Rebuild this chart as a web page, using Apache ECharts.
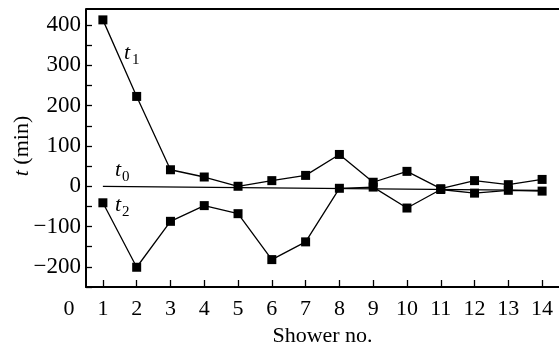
<!DOCTYPE html>
<html>
<head>
<meta charset="utf-8">
<script src="https://cdn.jsdelivr.net/npm/echarts@6/dist/echarts.min.js"></script>
<style>
  html, body { margin: 0; padding: 0; background: #fff; }
  #chart { width: 559px; height: 352px; }
</style>
</head>
<body>
<div id="chart"></div>
<script>
// Shower numbers along the x axis
const showers = ['1','2','3','4','5','6','7','8','9','10','11','12','13','14'];
// Times t1 and t2 per shower, in minutes
const t1Values = [413, 223, 41, 23, 0, 14, 27, 79, 10, 37, -6, 14, 4, 17];
const t2Values = [-41, -201, -87, -48, -68, -182, -138, -5, -2, -54, -8, -17, -10, -12];
// Reference line t0 (start and end points)
const t0Points = [['1', 0], ['14', -10]];

const FONT = 'Liberation Serif';

const chart = echarts.init(document.getElementById('chart'), null, { renderer: 'canvas' });

const lineStyle = { color: '#000', width: 1.3 };

chart.setOption({
  animation: false,
  backgroundColor: '#fff',
  textStyle: { fontFamily: FONT },
  grid: { left: 86, right: -3, top: 9, bottom: 65, show: false },
  xAxis: {
    type: 'category',
    data: showers,
    boundaryGap: true,
    axisLine: { show: true, onZero: false, lineStyle: { color: '#000', width: 2 } },
    axisTick: { show: true, inside: true, alignWithLabel: true, interval: 0, length: 7, lineStyle: { color: '#000', width: 1.3 } },
    axisLabel: { color: '#000', fontFamily: FONT, fontSize: 22, margin: 11, interval: 0 },
    splitLine: { show: false },
    name: 'Shower no.',
    nameLocation: 'middle',
    nameGap: 38,
    nameTextStyle: { color: '#000', fontFamily: FONT, fontSize: 22 }
  },
  yAxis: {
    type: 'value',
    min: -250,
    max: 440,
    interval: 50,
    axisLine: { show: true, lineStyle: { color: '#000', width: 2 } },
    axisTick: { show: true, inside: true, length: 6, lineStyle: { color: '#000', width: 1.3 } },
    axisLabel: {
      color: '#000', fontFamily: FONT, fontSize: 23, margin: 5,
      showMaxLabel: false,
      formatter: v => (v % 100 === 0 ? (v < 0 ? '\u2212' + (-v) : String(v)) : '')
    },
    splitLine: { show: false }
  },
  graphic: [
    // top frame line
    { type: 'line', shape: { x1: 86, y1: 9, x2: 562, y2: 9 }, style: { stroke: '#000', lineWidth: 2 }, z: 10 },
    // origin label
    { type: 'text', x: 69, y: 309, style: { text: '0', fontFamily: FONT, fontSize: 22, fill: '#000', align: 'center', verticalAlign: 'middle' } },
    // y axis title
    {
      type: 'text', x: 22, y: 146, rotation: Math.PI / 2,
      style: {
        text: '{i|t} (min)', align: 'center', verticalAlign: 'middle', fill: '#000',
        fontFamily: FONT, fontSize: 22,
        rich: { i: { fontStyle: 'italic', fontFamily: FONT, fontSize: 22 } }
      }
    },
    // series labels
    { type: 'text', x: 124, y: 53, style: { text: 't', fontFamily: FONT, fontStyle: 'italic', fontSize: 22, fill: '#000', verticalAlign: 'middle' } },
    { type: 'text', x: 132, y: 60, style: { text: '1', fontFamily: FONT, fontSize: 15, fill: '#000', verticalAlign: 'middle' } },
    { type: 'text', x: 115, y: 170, style: { text: 't', fontFamily: FONT, fontStyle: 'italic', fontSize: 22, fill: '#000', verticalAlign: 'middle' } },
    { type: 'text', x: 122, y: 177, style: { text: '0', fontFamily: FONT, fontSize: 15, fill: '#000', verticalAlign: 'middle' } },
    { type: 'text', x: 115, y: 205, style: { text: 't', fontFamily: FONT, fontStyle: 'italic', fontSize: 22, fill: '#000', verticalAlign: 'middle' } },
    { type: 'text', x: 122, y: 212, style: { text: '2', fontFamily: FONT, fontSize: 15, fill: '#000', verticalAlign: 'middle' } }
  ],
  series: [
    {
      name: 't0', type: 'line', data: t0Points, showSymbol: false, symbol: 'none',
      lineStyle: { color: '#000', width: 1.3 }, z: 1
    },
    {
      name: 't1', type: 'line', data: t1Values, symbol: 'rect', symbolSize: 9,
      itemStyle: { color: '#000' }, lineStyle: lineStyle, z: 3
    },
    {
      name: 't2', type: 'line', data: t2Values, symbol: 'rect', symbolSize: 9,
      itemStyle: { color: '#000' }, lineStyle: lineStyle, z: 3
    }
  ]
});
</script>
</body>
</html>
